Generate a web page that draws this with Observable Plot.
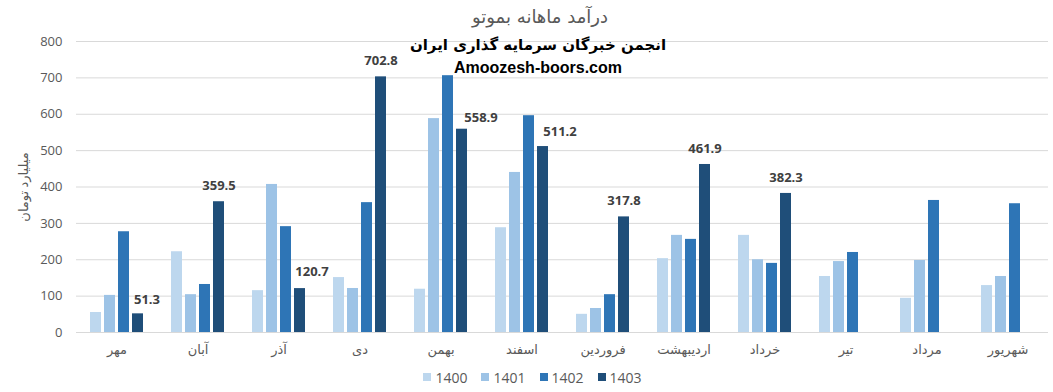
<!DOCTYPE html>
<html>
<head>
<meta charset="utf-8">
<script src="https://cdn.jsdelivr.net/npm/d3@7"></script>
<script src="https://cdn.jsdelivr.net/npm/@observablehq/plot@0.6"></script>
<style>
  html, body { margin: 0; padding: 0; background: #fff; }
  #wrap { position: relative; width: 1053px; height: 392px; font-family: "Open Sans", "DejaVu Sans", sans-serif; overflow: hidden; }
  #title { height: 30px; line-height: 34px; text-align: center; font-size: 18px; color: #595959; font-family: "DejaVu Sans", sans-serif; padding-left: 27px; }
  .sub { position: absolute; left: 0; width: 1076px; text-align: center; font-weight: bold; color: #000; }
  #sub1 { top: 36px; font-size: 15px; font-family: "DejaVu Sans", sans-serif; }
  #sub2 { top: 59px; font-size: 16px; font-family: "Liberation Sans", Arial, sans-serif; }
  #legend { display: flex; justify-content: center; align-items: center; gap: 14px; height: 30px; font-size: 14px; color: #595959; padding-left: 12px; font-family: "Open Sans", sans-serif; }
  .item { display: flex; align-items: center; gap: 4px; }
  .sw { width: 8px; height: 8px; display: inline-block; }
</style>
</head>
<body>
<div id="wrap">
  <div id="title">درآمد ماهانه بموتو</div>
  <div id="chart"></div>
  <div id="legend"></div>
  <div class="sub" id="sub1">انجمن خبرگان سرمایه گذاری ایران</div>
  <div class="sub" id="sub2">Amoozesh-boors.com</div>
</div>
<script>
const months = ["مهر", "آبان", "آذر", "دی", "بهمن", "اسفند", "فروردین", "اردیبهشت", "خرداد", "تیر", "مرداد", "شهریور"];
const years = ["1400", "1401", "1402", "1403"];
const values1400 = [55, 222, 115, 151, 119, 288, 50, 203, 267, 154, 94, 129];
const values1401 = [102, 104, 407, 121, 588, 440, 66, 267, 200, 195, 198, 154];
const values1402 = [277, 132, 291, 357, 706, 596, 104, 256, 190, 220, 363, 354];
const values1403 = [51.3, 359.5, 120.7, 702.8, 558.9, 511.2, 317.8, 461.9, 382.3, null, null, null];
const yTicks = [0, 100, 200, 300, 400, 500, 600, 700, 800];
const yLabel = "میلیارد تومان";
const colors = ["#BDD7EE", "#9DC3E6", "#2E75B6", "#1F4E79"];

const series = [values1400, values1401, values1402, values1403];
const data = [];
months.forEach((m, i) => {
  years.forEach((y, j) => {
    const v = series[j][i];
    if (v != null) data.push({month: m, year: y, value: v});
  });
});

// label placement nudges (style only), as in the original chart where some labels were dragged
const labelNudge = {"مهر": [9, -14], "آذر": [12, -17], "بهمن": [19, -11], "اسفند": [17, -15]};
const labelled = data.filter(d => d.year === "1403");
const labelMarks = [];
const defaultLabels = labelled.filter(d => !(d.month in labelNudge));
const labelStyle = {fx: "month", x: "year", y: "value", text: d => d3.format(".1f")(d.value), fontWeight: "bold", fontSize: 13, fill: "#404040"};
labelMarks.push(Plot.text(defaultLabels, {...labelStyle, dy: -16}));
for (const [m, [dx, dy]] of Object.entries(labelNudge)) {
  labelMarks.push(Plot.text(labelled.filter(d => d.month === m), {...labelStyle, dx, dy}));
}

const chart = Plot.plot({
  width: 1053,
  height: 332,
  marginTop: 11,
  marginBottom: 30,
  marginLeft: 72,
  marginRight: 1,
  style: {fontFamily: "'Open Sans', 'DejaVu Sans', sans-serif", fontSize: "13px", color: "#595959", background: "transparent"},
  fx: {domain: months, padding: 0, label: null, axis: "bottom", tickSize: 0, tickPadding: 12},
  x: {domain: years, axis: null, paddingInner: 0.2, paddingOuter: 0.83},
  y: {domain: [0, 800], ticks: yTicks, tickSize: 0, tickPadding: 14, label: yLabel, labelArrow: "none", labelAnchor: "center", labelOffset: 58, grid: false},
  color: {domain: years, range: colors},
  marks: [
    Plot.gridY(yTicks, {stroke: "#d9d9d9", strokeOpacity: 1}),
    Plot.barY(data, {fx: "month", x: "year", y: "value", fill: "year"}),
    Plot.ruleY([0], {stroke: "#d9d9d9"}),
    ...labelMarks
  ]
});
document.getElementById("chart").appendChild(chart);

const legend = document.getElementById("legend");
years.forEach((y, i) => {
  const it = document.createElement("div");
  it.className = "item";
  it.innerHTML = `<span class="sw" style="background:${colors[i]}"></span><span>${y}</span>`;
  legend.appendChild(it);
});
</script>
</body>
</html>
